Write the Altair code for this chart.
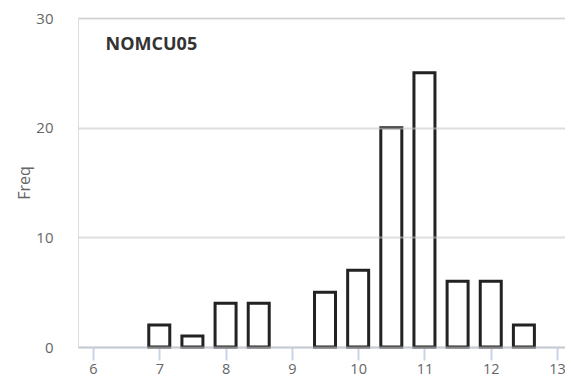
import altair as alt
import pandas as pd

centers = [7.0, 7.5, 8.0, 8.5, 9.5, 10.0, 10.5, 11.0, 11.5, 12.0, 12.5]
freqs = [2, 1, 4, 4, 5, 7, 20, 25, 6, 6, 2]
x_ticks = [6, 7, 8, 9, 10, 11, 12, 13]
y_ticks = [0, 10, 20, 30]
label_text = "NOMCU05"

df = pd.DataFrame({"x": centers, "freq": freqs})
lab = pd.DataFrame({"x": [6.19], "y": [27.55], "t": [label_text]})

FONT = "Open Sans"

xscale = alt.Scale(domain=[5.774, 13.12], nice=False, zero=False, padding=0)
yscale = alt.Scale(domain=[0, 30], nice=False, padding=0)

bars = alt.Chart(df).mark_bar(
    size=21, fill="white", stroke="#222222", strokeWidth=3
).encode(
    x=alt.X("x:Q", scale=xscale, title=None,
            axis=alt.Axis(values=x_ticks, format="d", grid=False,
                          domainColor="#c9d4e6", domainWidth=2,
                          tickColor="#c9d4e6", tickWidth=2,
                          tickSize=13, labelFontSize=14.5, labelColor="#666666",
                          labelFont=FONT, labelPadding=2, zindex=0)),
    y=alt.Y("freq:Q", scale=yscale, title="Freq",
            axis=alt.Axis(values=y_ticks, format="d", domain=False, ticks=False,
                          grid=True, gridColor="#c8c8c8", gridWidth=2,
                          gridOpacity=0.6,
                          labelFontSize=15, labelColor="#666666", labelFont=FONT,
                          labelPadding=25, titleFont=FONT, titleFontSize=16,
                          titleFontWeight="normal", titleColor="#666666",
                          titlePadding=3, zindex=1)),
)

text = alt.Chart(lab).mark_text(
    align="left", baseline="middle", fontSize=18, fontWeight="bold",
    font=FONT, color="#333333"
).encode(
    x=alt.X("x:Q", scale=xscale),
    y=alt.Y("y:Q", scale=yscale),
    text="t:N",
)

chart = alt.layer(bars, text).properties(
    width=487, height=329,
    autosize=alt.AutoSizeParams(type="none"),
    padding={"left": 70, "top": 10, "right": 0, "bottom": 30},
).configure_view(stroke=None).configure(background="white")

chart.save("out.html", embed_options={"renderer": "svg", "actions": False})
